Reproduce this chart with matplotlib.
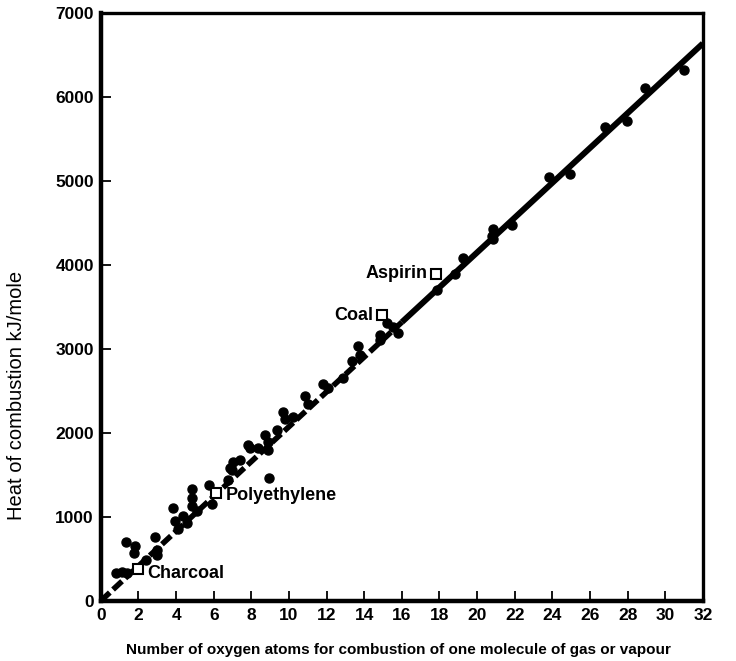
import matplotlib
matplotlib.use('Agg')
import matplotlib.pyplot as plt

# measured compounds (filled dots): oxygen atoms, heat of combustion kJ/mole
oxygen_atoms = [0.83, 1.1, 1.37, 1.33, 1.8, 1.76, 2.39, 2.87, 2.96, 2.96,
                3.83, 3.94, 4.1, 4.36, 4.56, 4.82, 4.82, 4.82, 5.09, 5.76,
                5.89, 6.77, 6.95, 7.4, 7.93, 8.95, 6.86, 7.04, 7.84, 8.37,
                8.88, 8.9, 8.72, 9.35, 9.7, 9.79, 10.23, 10.85, 11.03, 11.83,
                12.1, 12.89, 13.33, 13.69, 13.78, 14.84, 14.84, 15.8, 15.55, 15.2,
                17.86, 18.83, 19.27, 20.78, 20.87, 20.87, 21.85, 23.8, 24.95, 26.8,
                27.96, 28.94, 30.97]
heat_kj = [326, 345, 329, 706, 659, 565, 482, 757, 600, 541,
           1109, 953, 859, 1012, 933, 1329, 1227, 1129, 1071, 1385,
           1149, 1443, 1561, 1682, 1815, 1462, 1580, 1659, 1855, 1815,
           1800, 1894, 1973, 2032, 2247, 2168, 2188, 2443, 2345, 2580,
           2541, 2659, 2855, 3032, 2933, 3168, 3109, 3188, 3267, 3306,
           3698, 3894, 4090, 4345, 4424, 4306, 4482, 5051, 5090, 5639,
           5718, 6109, 6325]

# labelled substances (open squares)
labels = ['Charcoal', 'Polyethylene', 'Coal', 'Aspirin']
label_x = [2.0, 6.1, 14.93, 17.8]
label_y = [380, 1290, 3404, 3894]

# fitted line
fit_slope = 207.5

fig = plt.figure(figsize=(7.36, 6.61), dpi=100)
ax = fig.add_axes([0.137, 0.091, 0.818, 0.889])

ax.set_xlim(0, 32)
ax.set_ylim(0, 7000)

# dashed lower part, solid upper part
ax.plot([0, 16], [0, 16 * fit_slope], color='black', lw=4.0,
        linestyle=(0, (2.2, 0.8)), solid_capstyle='butt', zorder=2)
ax.plot([16, 32], [16 * fit_slope, 32 * fit_slope], color='black', lw=4.3,
        solid_capstyle='butt', zorder=2)

ax.plot(oxygen_atoms, heat_kj, 'o', color='black', markersize=6.5,
        linestyle='none', zorder=3)
ax.plot(label_x, label_y, 's', markerfacecolor='white', markeredgecolor='black',
        markeredgewidth=1.5, markersize=7, linestyle='none', zorder=4)

text_style = dict(fontsize=13, fontweight='bold', family='Liberation Sans')
ax.annotate(labels[0], (label_x[0], label_y[0]), xytext=(6, -3),
            textcoords='offset points', ha='left', va='center', **text_style)
ax.annotate(labels[1], (label_x[1], label_y[1]), xytext=(7, -2),
            textcoords='offset points', ha='left', va='center', **text_style)
ax.annotate(labels[2], (label_x[2], label_y[2]), xytext=(-6, 0),
            textcoords='offset points', ha='right', va='center', **text_style)
ax.annotate(labels[3], (label_x[3], label_y[3]), xytext=(-6, 0),
            textcoords='offset points', ha='right', va='center', **text_style)

ax.set_xticks(range(0, 33, 2))
ax.set_yticks(range(0, 7001, 1000))
ax.tick_params(axis='both', direction='in', width=1.3, length=7, pad=5,
               labelsize=12.5)
for lab in ax.get_xticklabels() + ax.get_yticklabels():
    lab.set_fontweight('bold')
    lab.set_family('Liberation Sans')

for side in ['left', 'bottom']:
    ax.spines[side].set_linewidth(3.2)
for side in ['top', 'right']:
    ax.spines[side].set_linewidth(2.4)

ax.set_xlabel('Number of oxygen atoms for combustion of one molecule of gas or vapour',
              fontsize=11, fontweight='bold', family='Liberation Sans')
ax.xaxis.set_label_coords(0.495, -0.072)
ax.set_ylabel('Heat of combustion kJ/mole', fontsize=14.5, family='Liberation Sans')
ax.yaxis.set_label_coords(-0.125, 0.35)

fig.savefig('out.png', dpi=100)
